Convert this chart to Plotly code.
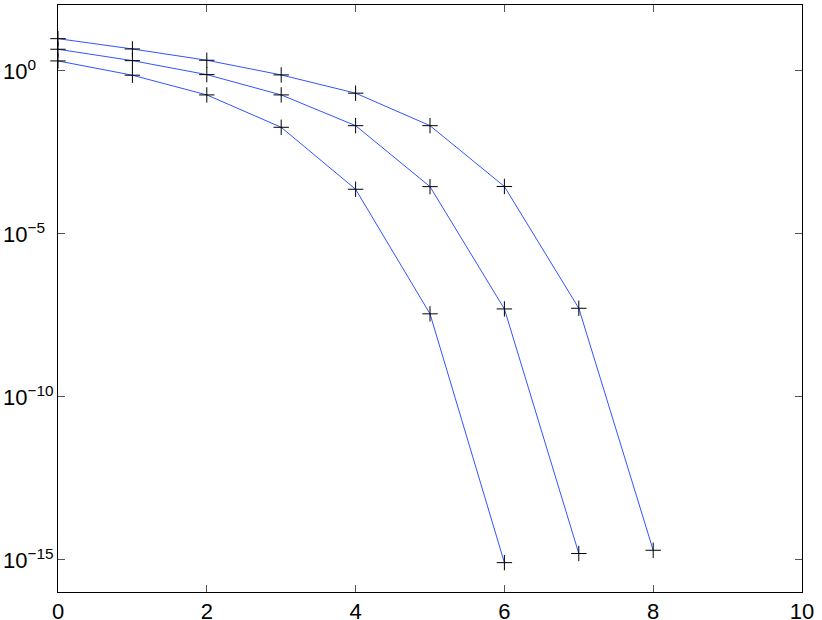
import plotly.graph_objects as go

# Data (log10 of the plotted values)
x1 = [0, 1, 2, 3, 4, 5, 6]
log_y1 = [0.285, -0.153, -0.757, -1.75, -3.65, -7.47, -15.1]
x2 = [0, 1, 2, 3, 4, 5, 6, 7]
log_y2 = [0.643, 0.294, -0.135, -0.757, -1.70, -3.57, -7.32, -14.82]
x3 = [0, 1, 2, 3, 4, 5, 6, 7, 8]
log_y3 = [0.968, 0.652, 0.306, -0.144, -0.704, -1.70, -3.565, -7.30, -14.72]

y_tick_exps = [0, -5, -10, -15]
x_ticks = [0, 2, 4, 6, 8, 10]

series = [(x1, log_y1), (x2, log_y2), (x3, log_y3)]

fig = go.Figure()
LINE = "#2f55ff"
for xs, ly in series:
    ys = [10 ** v for v in ly]
    fig.add_trace(go.Scatter(x=xs, y=ys, mode="lines",
                             line=dict(color=LINE, width=1),
                             showlegend=False, hoverinfo="skip"))
for xs, ly in series:
    ys = [10 ** v for v in ly]
    fig.add_trace(go.Scatter(x=xs, y=ys, mode="markers",
                             marker=dict(symbol="cross-thin", size=11,
                                         line=dict(color="black", width=1)),
                             cliponaxis=False, showlegend=False))

def sup(e):
    s = str(e).replace("-", "\u2212")
    return f"10<sup>{s}</sup>"

FONT = "Liberation Sans, Arial, sans-serif"
fig.update_layout(
    width=822, height=620,
    margin=dict(l=58, r=20, t=5, b=28, autoexpand=False),
    paper_bgcolor="white", plot_bgcolor="white",
    font=dict(family=FONT, size=22, color="black"),
)
fig.update_xaxes(range=[0, 10], tickvals=x_ticks, ticktext=[str(v) for v in x_ticks],
                 ticks="inside", ticklen=7, tickcolor="#555", tickwidth=1,
                 ticklabelstandoff=0, automargin=False,
                 showline=True, linecolor="black", linewidth=1, mirror="ticks",
                 showgrid=False, zeroline=False)
fig.update_yaxes(type="log", range=[-16, 2],
                 tickvals=[10 ** e for e in y_tick_exps],
                 showticklabels=False, automargin=False,
                 ticks="inside", ticklen=7, tickcolor="#555", tickwidth=1,
                 showline=True, linecolor="black", linewidth=1, mirror="ticks",
                 showgrid=False, zeroline=False)

for e in y_tick_exps:
    fig.add_annotation(x=0, xref="paper", y=e, yref="y", text=sup(e),
                       showarrow=False, xanchor="left", yanchor="middle",
                       xshift=-57, yshift=0, font=dict(family=FONT, size=22, color="black"))

fig.write_html("out.html", config={"displayModeBar": False},
               post_script="document.body.style.margin='0px';")
